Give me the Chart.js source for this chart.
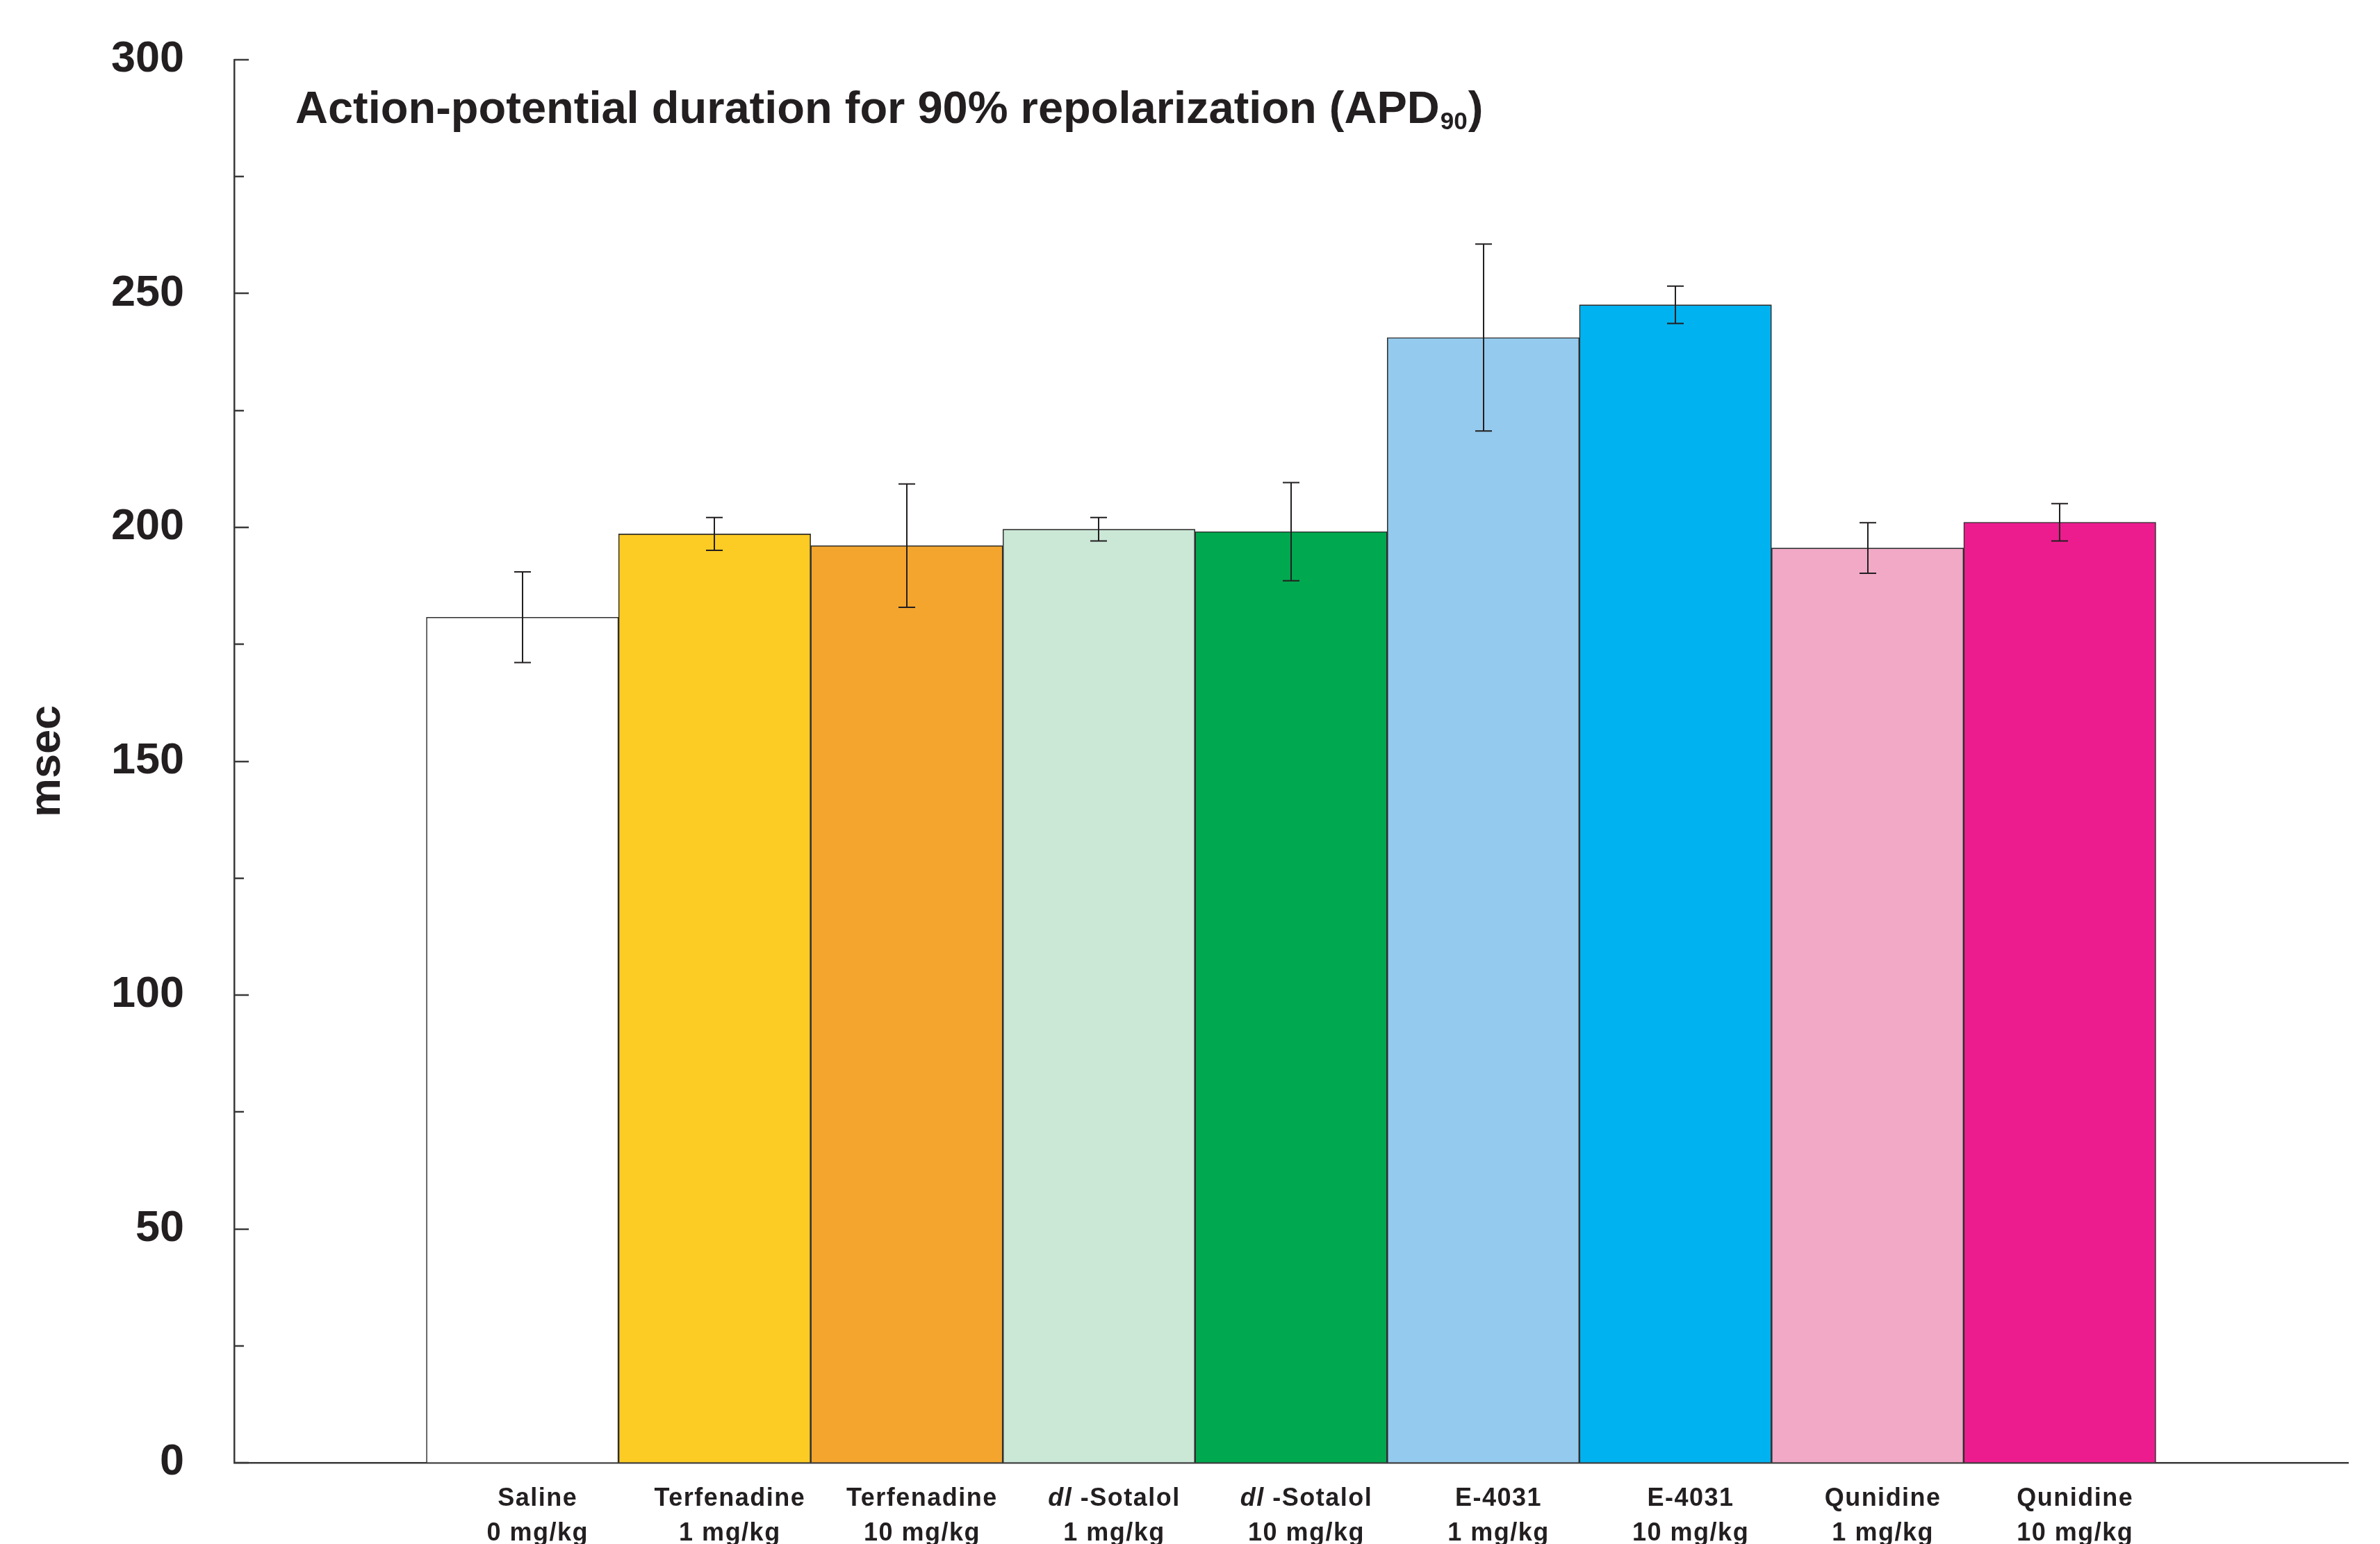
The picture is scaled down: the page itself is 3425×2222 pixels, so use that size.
<!DOCTYPE html>
<html>
<head>
<meta charset="utf-8">
<title>APD90</title>
<script src="https://cdn.jsdelivr.net/npm/chart.js@4/dist/chart.umd.min.js"></script>
<style>
  html, body { margin: 0; padding: 0; background: #ffffff; }
  #wrap { width: 3425px; height: 2222px; }
</style>
</head>
<body>
<div id="wrap"><canvas id="c" width="3425" height="2222"></canvas></div>
<script>
// Treatment groups (drug, dose)
const drugs = ['Saline', 'Terfenadine', 'Terfenadine', 'dl -Sotalol', 'dl -Sotalol', 'E-4031', 'E-4031', 'Qunidine', 'Qunidine'];
const doses = ['0 mg/kg', '1 mg/kg', '10 mg/kg', '1 mg/kg', '10 mg/kg', '1 mg/kg', '10 mg/kg', '1 mg/kg', '10 mg/kg'];

// APD90 mean and error (msec)
const apd90Mean = [180.8, 198.6, 196.1, 199.6, 199.1, 240.6, 247.6, 195.6, 201.1];
const apd90Err  = [9.7, 3.5, 13.2, 2.5, 10.5, 20.0, 4.0, 5.4, 4.0];

// Bar fill colours
const barColors = ['#ffffff', '#fccb24', '#f3a52e', '#cbe7d6', '#00a84f', '#94caed', '#00b2ef', '#f1a9c6', '#ec1c8f'];

// Y axis ticks
const yTicks = [0, 50, 100, 150, 200, 250, 300];

const INK = '#231f20';
const FONT = "'Liberation Sans', Arial, Helvetica, sans-serif";

// one empty slot on each side of the groups
const labels = [''].concat(drugs.map((d, i) => d + ' ' + doses[i]), ['']);
const values = [null].concat(apd90Mean, [null]);
const fills = ['#ffffff'].concat(barColors, ['#ffffff']);

const titlePlugin = {
  id: 'apdTitle',
  afterDraw(chart) {
    const ctx = chart.ctx;
    const a = chart.chartArea;
    ctx.save();
    ctx.fillStyle = INK;
    ctx.textBaseline = 'alphabetic';
    ctx.textAlign = 'left';
    let x = a.left + 88;
    const y = a.top + 91;
    ctx.font = 'bold 65px ' + FONT;
    const main = 'Action-potential duration for 90% repolarization (APD';
    ctx.fillText(main, x, y);
    x += ctx.measureText(main).width;
    ctx.font = 'bold 35px ' + FONT;
    ctx.fillText('90', x + 1, y + 9);
    x += ctx.measureText('90').width + 2;
    ctx.font = 'bold 65px ' + FONT;
    ctx.fillText(')', x, y);
    ctx.restore();
  }
};

const innerTicksPlugin = {
  id: 'innerTicks',
  afterDraw(chart) {
    const ctx = chart.ctx;
    const ys = chart.scales.y;
    const left = chart.chartArea.left;
    ctx.save();
    ctx.strokeStyle = '#3a3a3a';
    ctx.lineWidth = 2.5;
    for (let v = 0; v <= 300; v += 25) {
      const py = Math.round(ys.getPixelForValue(v));
      const len = v % 50 === 0 ? 21 : 14;
      ctx.beginPath();
      ctx.moveTo(left, py);
      ctx.lineTo(left + len, py);
      ctx.stroke();
    }
    ctx.restore();
  }
};

const errorBarsPlugin = {
  id: 'errorBars',
  afterDatasetsDraw(chart) {
    const ctx = chart.ctx;
    const ys = chart.scales.y;
    const meta = chart.getDatasetMeta(0);
    ctx.save();
    ctx.strokeStyle = INK;
    ctx.lineWidth = 2;
    apd90Mean.forEach((m, i) => {
      const bar = meta.data[i + 1];
      const x = Math.round(bar.x);
      const yHi = ys.getPixelForValue(m + apd90Err[i]);
      const yLo = ys.getPixelForValue(m - apd90Err[i]);
      ctx.beginPath();
      ctx.moveTo(x, yHi); ctx.lineTo(x, yLo);
      ctx.moveTo(x - 12, yHi); ctx.lineTo(x + 12, yHi);
      ctx.moveTo(x - 12, yLo); ctx.lineTo(x + 12, yLo);
      ctx.stroke();
    });
    ctx.restore();
  }
};

const groupLabelsPlugin = {
  id: 'groupLabels',
  afterDraw(chart) {
    const ctx = chart.ctx;
    const xs = chart.scales.x;
    const base = chart.chartArea.bottom;
    const normal = 'bold 36px ' + FONT;
    const italic = 'italic bold 36px ' + FONT;
    ctx.save();
    ctx.fillStyle = INK;
    ctx.textBaseline = 'alphabetic';
    ctx.textAlign = 'left';
    if ('letterSpacing' in ctx) ctx.letterSpacing = '1.5px';
    drugs.forEach((name, i) => {
      const cx = xs.getPixelForValue(i + 1) + 22;
      // first line: drug name, with the "dl" prefix set in italics
      let parts;
      if (name.startsWith('dl ')) {
        parts = [[name.slice(0, 2), italic], [name.slice(2), normal]];
      } else {
        parts = [[name, normal]];
      }
      let w = 0;
      parts.forEach(p => { ctx.font = p[1]; w += ctx.measureText(p[0]).width; });
      let x = cx - w / 2;
      parts.forEach(p => {
        ctx.font = p[1];
        ctx.fillText(p[0], x, base + 62);
        x += ctx.measureText(p[0]).width;
      });
      // second line: dose
      ctx.font = normal;
      const dw = ctx.measureText(doses[i]).width;
      ctx.fillText(doses[i], cx - dw / 2, base + 112);
    });
    ctx.restore();
  }
};

new Chart(document.getElementById('c'), {
  type: 'bar',
  data: {
    labels: labels,
    datasets: [{
      data: values,
      backgroundColor: fills,
      borderColor: '#2e2e2e',
      borderWidth: 1.6,
      barPercentage: 1.0,
      categoryPercentage: 1.0
    }]
  },
  options: {
    responsive: false,
    devicePixelRatio: 1,
    animation: false,
    events: [],
    layout: { padding: { top: 86, right: 46, bottom: 0, left: 0 } },
    plugins: {
      legend: { display: false },
      title: { display: false },
      tooltip: { enabled: false }
    },
    scales: {
      x: {
        type: 'category',
        grid: { display: true, drawOnChartArea: false, drawTicks: false },
        border: { display: true, color: '#3a3a3a', width: 2.5 },
        ticks: { display: false },
        afterFit(scale) { scale.height = 117; }
      },
      y: {
        min: 0,
        max: 300,
        afterBuildTicks(scale) { scale.ticks = yTicks.map(v => ({ value: v })); },
        grid: { display: true, drawOnChartArea: false, drawTicks: false },
        border: { display: true, color: '#3a3a3a', width: 2.5 },
        ticks: {
          padding: 72,
          color: INK,
          font: { family: FONT, size: 63, weight: 'bold' }
        },
        title: {
          display: true,
          text: 'msec',
          color: INK,
          font: { family: FONT, size: 63, weight: 'bold' },
          padding: { top: 31, bottom: 0 }
        },
        afterFit(scale) {
          scale.width = 337;
          scale.paddingTop = 0;
          scale.paddingBottom = 0;
        }
      }
    }
  },
  plugins: [errorBarsPlugin, innerTicksPlugin, titlePlugin, groupLabelsPlugin]
});
</script>
</body>
</html>
